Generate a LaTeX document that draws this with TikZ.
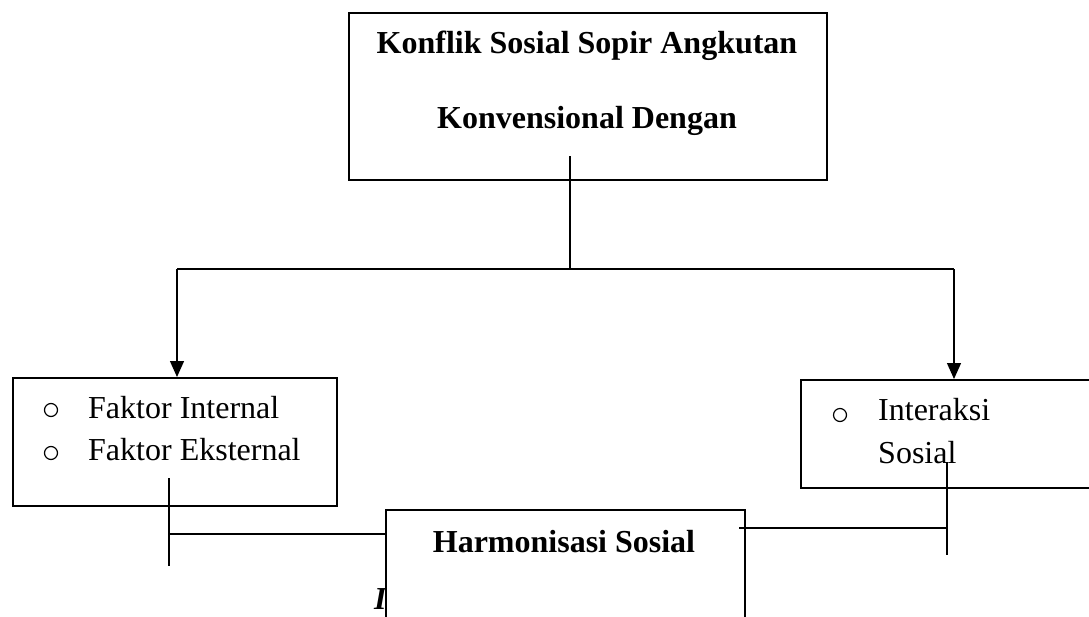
\documentclass[tikz,border=0pt]{standalone}
\usepackage{fontspec}
\setmainfont{Liberation Serif}
\usetikzlibrary{arrows.meta}
\begin{document}
\begin{tikzpicture}[x=1pt,y=-1pt,
  box/.style={draw,line width=1.8pt,fill=white,inner sep=0pt,anchor=north west},
  txt/.style={inner sep=0pt,font=\fontsize{32}{38}\selectfont},
  btxt/.style={inner sep=0pt,font=\fontsize{32}{38}\selectfont\bfseries},
  bul/.style={draw,circle,line width=1.2pt,minimum size=13pt,inner sep=0pt},
  conn/.style={line width=1.3pt},
  arr/.style={conn,-{Triangle[length=16pt,width=14pt]}}]
\clip (0,0) rectangle (1089,616);
\fill[white] (0,0) rectangle (1089,616);

% boxes
\node[box,minimum width=478pt,minimum height=167pt] (top) at (348,12) {};
\node[box,minimum width=324pt,minimum height=128pt] (left) at (12,377) {};
\node[box,minimum width=400pt,minimum height=108pt] (right) at (800,379) {};
\node[inner sep=0pt,anchor=base west,font=\fontsize{32}{38}\selectfont\bfseries\itshape] (cap) at (374,609) {I};
\node[box,minimum width=359pt,minimum height=200pt] (bot) at (385,509) {};

% texts
\node[btxt,anchor=base] (t1) at (587,53) {Konflik Sosial Sopir Angkutan};
\node[btxt,anchor=base] (t2) at (587,128) {Konvensional Dengan};
\node[btxt,anchor=base] (t3) at (564,552) {Harmonisasi Sosial};

\node[bul] (b1) at (51,410) {};
\node[bul] (b2) at (51,453) {};
\node[txt,anchor=base west] (f1) at (88,418) {Faktor Internal};
\node[txt,anchor=base west] (f2) at (88,460) {Faktor Eksternal};

\node[bul] (b3) at (840,415) {};
\node[txt,anchor=base west] (i1) at (878,420) {Interaksi};
\node[txt,anchor=base west] (i2) at (878,463) {Sosial};

% connectors
\coordinate (tS) at (570,156);
\coordinate (tJ) at (570,269);
\coordinate (lJ) at (177,269);
\coordinate (rJ) at (954,269);
\draw[conn] (tS) -- (tJ);
\draw[conn] (lJ) -- (rJ);
\draw[arr] (lJ) -- (lJ |- left.north);
\draw[arr] (rJ) -- (rJ |- right.north);

\coordinate (lA) at (169,478);
\coordinate (lB) at (169,566);
\coordinate (lM) at (169,534);
\draw[conn] (lA) -- (lB);
\draw[conn] (lM) -- (lM -| bot.west);

\coordinate (rA) at (947,462);
\coordinate (rB) at (947,555);
\coordinate (rM) at (947,528);
\coordinate (rE) at (739,528);
\draw[conn] (rA) -- (rB);
\draw[conn] (rE) -- (rM);
\end{tikzpicture}
\end{document}
